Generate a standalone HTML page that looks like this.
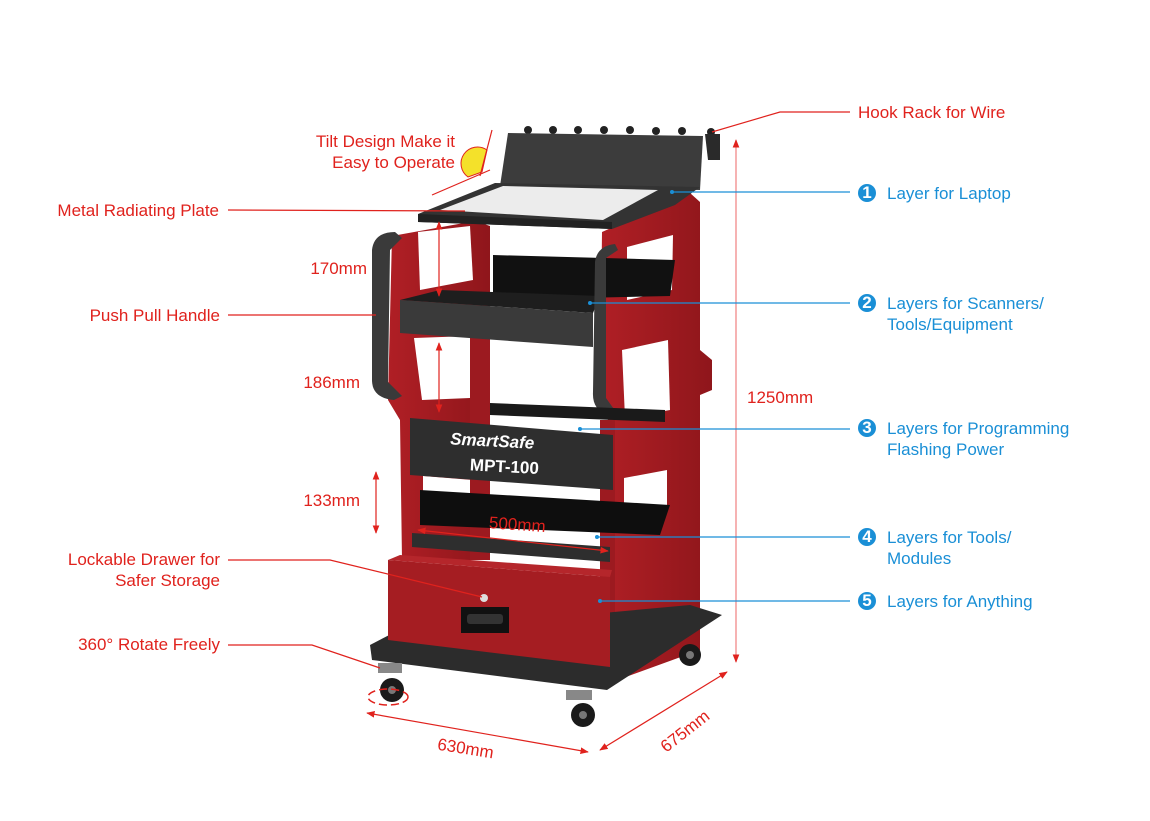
<!DOCTYPE html>
<html><head><meta charset="utf-8"><style>
html,body{margin:0;padding:0;background:#fff;}
svg{display:block;}
text{font-family:"Liberation Sans","Noto Sans CJK SC",sans-serif;font-size:17px;}
.r{fill:#e0221d;}
.b{fill:#1a8fd6;}
</style></head><body>
<svg width="1150" height="821" viewBox="0 0 1150 821">
<defs>
<linearGradient id="rg" x1="0" x2="1"><stop offset="0" stop-color="#b01f25"/><stop offset="1" stop-color="#8f161b"/></linearGradient>
<marker id="ar" viewBox="0 0 10 10" refX="9" refY="5" markerWidth="7" markerHeight="7" orient="auto-start-reverse"><path d="M0,1 L10,5 L0,9z" fill="#e0221d"/></marker>
</defs>

<g fill="#222">
<circle cx="528" cy="130" r="4"/><circle cx="553" cy="130" r="4"/><circle cx="578" cy="130" r="4"/><circle cx="604" cy="130" r="4"/><circle cx="630" cy="130" r="4"/><circle cx="656" cy="131" r="4"/><circle cx="682" cy="131" r="4"/><circle cx="711" cy="132" r="4"/>
</g>
<polygon points="508,133 703,136 700,190 500,186" fill="#3c3c3c"/>
<polygon points="705,134 720,134 720,160 708,160" fill="#2a2a2a"/>

<polygon points="602,232 690,193 700,202 700,350 712,360 712,390 700,395 700,650 612,682 608,420 600,405" fill="url(#rg)"/>
<polygon points="627,247 673,235 672,290 627,300" fill="#fff"/>
<polygon points="622,350 668,340 670,410 625,418" fill="#fff"/>
<polygon points="624,478 667,470 667,508 624,515" fill="#fff"/>
<polygon points="392,236 475,221 490,226 490,560 402,560 400,420 388,400" fill="url(#rg)"/>
<polygon points="418,232 470,226 473,280 420,290" fill="#fff"/>
<polygon points="414,338 470,336 470,398 422,400" fill="#fff"/>
<polygon points="423,476 473,480 473,516 423,512" fill="#fff"/>
<rect x="470" y="330" width="20" height="230" fill="#9c1a20"/>
<rect x="600" y="420" width="15" height="200" fill="#9c1a20"/>

<polygon points="418,214 495,183 700,187 675,205 612,229 418,222" fill="#333"/>
<polygon points="440,210 503,186 658,190 603,220" fill="#ececec"/>
<polygon points="418,214 612,222 612,229 418,222" fill="#222"/>

<polygon points="493,255 675,260 670,296 493,300" fill="#111"/>
<polygon points="440,290 600,296 593,313 400,300" fill="#1e1e1e"/>
<polygon points="400,300 593,313 593,347 400,333" fill="#3a3a3a"/>

<path d="M372,250 Q374,232 395,232 L402,238 L390,250 L388,382 L402,396 L394,400 Q372,398 372,380 Z" fill="#3a3a3a"/>
<path d="M595,262 Q597,246 615,244 L618,250 L606,258 L606,398 L616,412 L608,415 Q592,410 593,392 Z" fill="#3a3a3a"/>

<polygon points="490,403 665,410 665,422 490,415" fill="#1a1a1a"/>
<polygon points="410,418 613,435 613,490 410,475" fill="#2e2e2e"/>
<text x="450" y="447" font-size="19" font-weight="bold" font-style="italic" fill="#fff" transform="rotate(3 500 445)">SmartSafe</text>
<text x="470" y="472" font-size="17" font-weight="bold" fill="#fff" transform="rotate(3 500 465)">MPT-100</text>

<polygon points="420,490 670,505 660,535 420,525" fill="#0e0e0e"/>
<polygon points="412,533 610,547 610,562 412,547" fill="#2e2e2e"/>

<polygon points="370,645 395,632 690,605 722,615 607,690 372,660" fill="#2c2c2c"/>
<polygon points="388,560 610,577 610,667 388,640" fill="#a51d22"/>
<polygon points="388,560 400,555 612,570 610,577" fill="#b5262b"/>
<rect x="461" y="607" width="48" height="26" fill="#111"/>
<rect x="467" y="614" width="36" height="10" rx="3" fill="#333"/>
<circle cx="484" cy="598" r="4" fill="#ddd"/>

<g fill="#1a1a1a">
<rect x="378" y="663" width="24" height="10" fill="#888"/><circle cx="392" cy="690" r="12"/><circle cx="392" cy="690" r="4" fill="#777"/>
<rect x="566" y="690" width="26" height="10" fill="#888"/><circle cx="583" cy="715" r="12"/><circle cx="583" cy="715" r="4" fill="#777"/>
<circle cx="690" cy="655" r="11"/><circle cx="690" cy="655" r="4" fill="#777"/>
</g>
<ellipse cx="388" cy="697" rx="20" ry="8" fill="none" stroke="#e0221d" stroke-dasharray="8 4" stroke-width="1.5"/>

<path d="M487,150 A13,13 0 0 0 468,177 L482,172 Z" fill="#f4e12a" stroke="#e0221d" stroke-width="1"/>
<g stroke="#e0221d" stroke-width="1.2" fill="none">
<line x1="228" y1="210" x2="465" y2="211"/>
<line x1="228" y1="315" x2="376" y2="315"/>
<polyline points="228,560 330,560 482,597"/>
<polyline points="228,645 312,645 380,668"/>
<polyline points="712,132 780,112 850,112"/>
<line x1="432" y1="195" x2="490" y2="170"/>
<line x1="480" y1="176" x2="492" y2="130"/>
<line x1="439" y1="222" x2="439" y2="296" marker-start="url(#ar)" marker-end="url(#ar)"/>
<line x1="439" y1="343" x2="439" y2="412" marker-start="url(#ar)" marker-end="url(#ar)"/>
<line x1="376" y1="472" x2="376" y2="533" marker-start="url(#ar)" marker-end="url(#ar)"/>
<line x1="418" y1="530" x2="608" y2="551" marker-start="url(#ar)" marker-end="url(#ar)"/>
<line x1="736" y1="140" x2="736" y2="662" stroke="#f08080" marker-start="url(#ar)" marker-end="url(#ar)"/>
<line x1="367" y1="713" x2="588" y2="752" marker-start="url(#ar)" marker-end="url(#ar)"/>
<line x1="600" y1="750" x2="727" y2="672" marker-start="url(#ar)" marker-end="url(#ar)"/>
</g>

<g stroke="#1a8fd6" stroke-width="1.2">
<line x1="672" y1="192" x2="850" y2="192"/>
<line x1="590" y1="303" x2="850" y2="303"/>
<line x1="580" y1="429" x2="850" y2="429"/>
<line x1="597" y1="537" x2="850" y2="537"/>
<line x1="600" y1="601" x2="850" y2="601"/>
</g>
<g fill="#1a8fd6"><circle cx="672" cy="192" r="2"/><circle cx="590" cy="303" r="2"/><circle cx="580" cy="429" r="2"/><circle cx="597" cy="537" r="2"/><circle cx="600" cy="601" r="2"/></g>

<g class="r">
<text x="858" y="118">Hook Rack for Wire</text>
<text x="455" y="147" text-anchor="end">Tilt Design Make it</text>
<text x="455" y="168" text-anchor="end">Easy to Operate</text>
<text x="219" y="216" text-anchor="end">Metal Radiating Plate</text>
<text x="367" y="274" text-anchor="end">170mm</text>
<text x="220" y="321" text-anchor="end">Push Pull Handle</text>
<text x="360" y="388" text-anchor="end">186mm</text>
<text x="360" y="506" text-anchor="end">133mm</text>
<text x="220" y="565" text-anchor="end">Lockable Drawer for</text>
<text x="220" y="586" text-anchor="end">Safer Storage</text>
<text x="220" y="650" text-anchor="end">360° Rotate Freely</text>
<text x="747" y="403">1250mm</text>
<text x="489" y="530" transform="rotate(4 515 524)">500mm</text>
<text x="437" y="754" transform="rotate(9 465 750)">630mm</text>
<text x="652" y="740" transform="rotate(-38 678 726)">675mm</text>
</g>

<g>
<circle cx="867" cy="193" r="9" fill="#1a8fd6"/><text x="867" y="198" font-size="13" font-weight="bold" fill="#fff" text-anchor="middle">1</text>
<circle cx="867" cy="303" r="9" fill="#1a8fd6"/><text x="867" y="308" font-size="13" font-weight="bold" fill="#fff" text-anchor="middle">2</text>
<circle cx="867" cy="428" r="9" fill="#1a8fd6"/><text x="867" y="433" font-size="13" font-weight="bold" fill="#fff" text-anchor="middle">3</text>
<circle cx="867" cy="537" r="9" fill="#1a8fd6"/><text x="867" y="542" font-size="13" font-weight="bold" fill="#fff" text-anchor="middle">4</text>
<circle cx="867" cy="601" r="9" fill="#1a8fd6"/><text x="867" y="606" font-size="13" font-weight="bold" fill="#fff" text-anchor="middle">5</text>
</g>
<g class="b">
<text x="887" y="199">Layer for Laptop</text>
<text x="887" y="309">Layers for Scanners/</text>
<text x="887" y="330">Tools/Equipment</text>
<text x="887" y="434">Layers for Programming</text>
<text x="887" y="455">Flashing Power</text>
<text x="887" y="543">Layers for Tools/</text>
<text x="887" y="564">Modules</text>
<text x="887" y="607">Layers for Anything</text>
</g>
</svg>
</body></html>
